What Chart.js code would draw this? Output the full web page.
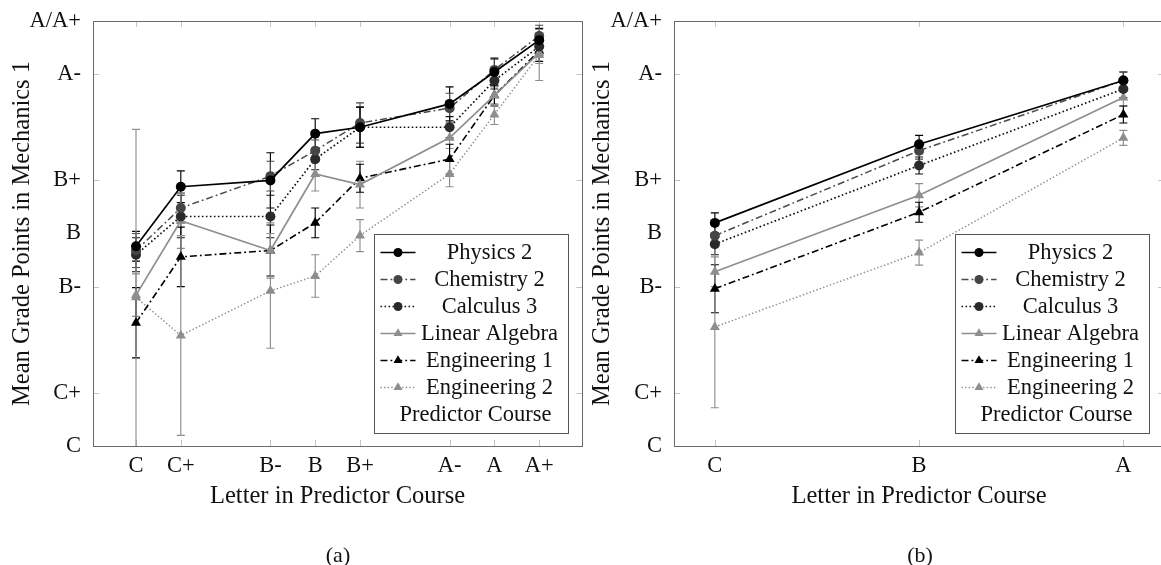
<!DOCTYPE html>
<html><head><meta charset="utf-8">
<script src="https://cdn.jsdelivr.net/npm/chart.js@4.4.1/dist/chart.umd.min.js"></script>
<style>
html,body{margin:0;padding:0;background:#fff;overflow:hidden;}
#wrap{position:relative;width:1161px;height:565px;overflow:hidden;background:#fff;}
canvas{position:absolute;top:0;}
.cap{position:absolute;font-family:'Liberation Serif',serif;font-size:22px;color:#111;transform:translateX(-50%);line-height:26px;}
</style></head><body>
<div id="wrap">
<canvas id="ca" width="588" height="565" style="left:0px"></canvas>
<canvas id="cb" width="585" height="565" style="left:585px"></canvas>
<div class="cap" style="left:338px;top:542px">(a)</div>
<div class="cap" style="left:920px;top:542px">(b)</div>
</div>
<script>
// ---- data ----
const seriesNames = ['Physics 2','Chemistry 2','Calculus 3','Linear Algebra','Engineering 1','Engineering 2'];
const yTickValues = [2.0, 2.25, 2.75, 3.0, 3.25, 3.75, 4.0];
const yTickLabels = ['C','C+','B-','B','B+','A-','A/A+'];
const yTickMarks = [2.25, 2.75, 3.25, 3.75];

const catsA = ['C','C+','B-','B','B+','A-','A','A+'];
const xValsA = [2.0, 2.25, 2.75, 3.0, 3.25, 3.75, 4.0, 4.25];
const catsB = ['C','B','A'];
const xValsB = [2.0, 3.0, 4.0];

const physicsA   = [2.94, 3.22, 3.25, 3.47, 3.50, 3.61, 3.76, 3.91];
const chemistryA = [2.92, 3.12, 3.27, 3.39, 3.52, 3.59, 3.77, 3.93];
const calculusA  = [2.90, 3.08, 3.08, 3.35, 3.50, 3.50, 3.72, 3.88];
const linAlgA    = [2.71, 3.06, 2.92, 3.28, 3.23, 3.45, 3.65, 3.85];
const eng1A      = [2.58, 2.89, 2.92, 3.05, 3.26, 3.35, 3.65, 3.86];
const eng2A      = [2.70, 2.52, 2.73, 2.80, 2.99, 3.28, 3.56, 3.84];

const physicsErrA   = [0.07, 0.075, 0.13, 0.07, 0.095, 0.08, 0.065, 0.055];
const chemistryErrA = [0.08, 0.07, 0.07, 0.05, 0.095, 0.07, 0.05, 0.05];
const calculusErrA  = [0.08, 0.10, 0.10, 0.05, 0.095, 0.05, 0.04, 0.05];
const linAlgErrA    = [0.10, 0.13, 0.13, 0.08, 0.11, 0.05, 0.04, 0.05];
const eng1ErrA      = [0.165, 0.14, 0.12, 0.07, 0.066, 0.07, 0.05, 0.05];
const eng2ErrA      = [0.79, 0.47, 0.27, 0.10, 0.075, 0.06, 0.047, 0.12];

const physicsB   = [3.05, 3.42, 3.72];
const chemistryB = [2.99, 3.39, 3.72];
const calculusB  = [2.95, 3.32, 3.68];
const linAlgB    = [2.82, 3.18, 3.64];
const eng1B      = [2.74, 3.10, 3.56];
const eng2B      = [2.56, 2.91, 3.45];

const physicsErrB   = [0.047, 0.042, 0.04];
const chemistryErrB = [0.05, 0.04, 0.04];
const calculusErrB  = [0.05, 0.04, 0.04];
const linAlgErrB    = [0.07, 0.055, 0.04];
const eng1ErrB      = [0.113, 0.047, 0.04];
const eng2ErrB      = [0.38, 0.059, 0.035];

// ---- styles ----
const styles = [
  {color:'#000000', fill:'#000000', dash:[], width:1.7, shape:'circle', r:5},
  {color:'#4a4a4a', fill:'#454545', dash:[7,3,1.8,3], width:1.5, shape:'circle', r:5},
  {color:'#111111', fill:'#2a2a2a', dash:[1.6,2.4], width:1.7, shape:'circle', r:5},
  {color:'#8e8e8e', fill:'#8e8e8e', dash:[], width:1.7, shape:'triangle', r:5.8},
  {color:'#000000', fill:'#000000', dash:[7,3,1.8,3], width:1.6, shape:'triangle', r:5.8},
  {color:'#8e8e8e', fill:'#8e8e8e', dash:[1.4,2.2], width:1.5, shape:'triangle', r:5.8}
];

Chart.defaults.font.family = "'Liberation Serif', 'Times New Roman', serif";
Chart.defaults.color = '#111';

function makeDatasets(xs, values, errs) {
  return values.map((vals, i) => {
    const s = styles[i];
    return {
      label: seriesNames[i],
      data: xs.map((xv, j) => ({x: xv, y: vals[j]})),
      errors: errs[i],
      borderColor: s.color,
      backgroundColor: s.fill,
      borderDash: s.dash,
      borderWidth: s.width,
      pointStyle: s.shape,
      pointRadius: s.r,
      pointBackgroundColor: s.fill,
      pointBorderColor: s.fill,
      pointBorderWidth: 0,
      tension: 0,
      fill: false
    };
  });
}

function drawMarker(ctx, shape, x, y, r, fill) {
  ctx.beginPath();
  if (shape === 'circle') {
    ctx.arc(x, y, r, 0, Math.PI * 2);
  } else {
    let rad = 0;
    ctx.moveTo(x + Math.sin(rad) * r, y - Math.cos(rad) * r);
    rad += 2 * Math.PI / 3;
    ctx.lineTo(x + Math.sin(rad) * r, y - Math.cos(rad) * r);
    rad += 2 * Math.PI / 3;
    ctx.lineTo(x + Math.sin(rad) * r, y - Math.cos(rad) * r);
    ctx.closePath();
  }
  ctx.fillStyle = fill;
  ctx.fill();
}

const decor = {
  id: 'decor',
  beforeDatasetsDraw(chart, args, opts) {
    const {ctx, chartArea: a, scales: {x, y}} = chart;
    const xt = opts.xTicks || [];
    ctx.save();
    ctx.beginPath(); ctx.rect(a.left, a.top, a.right - a.left, a.bottom - a.top); ctx.clip();
    ctx.strokeStyle = '#c4c4c4'; ctx.lineWidth = 1; ctx.setLineDash([]);
    xt.forEach(v => {
      const px = Math.round(x.getPixelForValue(v)) + 0.5;
      ctx.beginPath(); ctx.moveTo(px, a.top); ctx.lineTo(px, a.top + 6);
      ctx.moveTo(px, a.bottom); ctx.lineTo(px, a.bottom - 6); ctx.stroke();
    });
    yTickMarks.forEach(v => {
      const py = Math.round(y.getPixelForValue(v)) + 0.5;
      ctx.beginPath(); ctx.moveTo(a.left, py); ctx.lineTo(a.left + 6, py);
      ctx.moveTo(a.right, py); ctx.lineTo(a.right - 6, py); ctx.stroke();
    });
    // error bars
    chart.data.datasets.forEach((ds, i) => {
      ctx.strokeStyle = ds.borderColor; ctx.lineWidth = 1.15;
      ds.data.forEach((p, j) => {
        const e = ds.errors[j];
        const px = x.getPixelForValue(p.x);
        const t = y.getPixelForValue(p.y + e), b = y.getPixelForValue(p.y - e);
        ctx.beginPath();
        ctx.moveTo(px, t); ctx.lineTo(px, b);
        ctx.moveTo(px - 4, t); ctx.lineTo(px + 4, t);
        ctx.moveTo(px - 4, b); ctx.lineTo(px + 4, b);
        ctx.stroke();
      });
    });
    ctx.restore();
  },
  afterDraw(chart) {
    const {ctx, chartArea: a} = chart;
    ctx.save();
    ctx.setLineDash([]);
    ctx.strokeStyle = '#6a6a6a'; ctx.lineWidth = 1;
    ctx.strokeRect(Math.round(a.left) + 0.5, Math.round(a.top) + 0.5, Math.round(a.right - a.left), Math.round(a.bottom - a.top));
    // legend (south east, 3% inset like pgfplots)
    const w = 194, h = 199;
    const lx = Math.round(a.right - 0.03 * (a.right - a.left) - w) + 0.5;
    const ly = Math.round(a.bottom - 0.03 * (a.bottom - a.top) - h) + 0.5;
    ctx.fillStyle = '#fff'; ctx.fillRect(lx, ly, w, h);
    ctx.strokeStyle = '#555'; ctx.strokeRect(lx, ly, w, h);
    ctx.font = "22.5px 'Liberation Serif', serif";
    ctx.textBaseline = 'middle'; ctx.textAlign = 'center';
    chart.data.datasets.forEach((ds, i) => {
      const s = styles[i];
      const yy = ly + 18 + i * 27;
      ctx.beginPath(); ctx.setLineDash(s.dash); ctx.strokeStyle = s.color; ctx.lineWidth = s.width;
      ctx.moveTo(lx + 6, yy); ctx.lineTo(lx + 41, yy); ctx.stroke();
      ctx.setLineDash([]);
      drawMarker(ctx, s.shape, lx + 23.5, yy, s.r * 0.9, s.fill);
      ctx.fillStyle = '#111';
      ctx.fillText(ds.label, lx + 115, yy + 1);
    });
    ctx.fillStyle = '#111';
    ctx.fillText('Predictor Course', lx + 101, ly + 180 + 1);
    ctx.restore();
  }
};

function makeChart(id, xs, cats, xmin, xmax, values, errs, yWidth, padRight, titlePad) {
  return new Chart(document.getElementById(id), {
    type: 'line',
    data: {datasets: makeDatasets(xs, values, errs)},
    plugins: [decor],
    options: {
      responsive: false, animation: false, events: [],
      devicePixelRatio: 1,
      layout: {padding: {left: 0, top: 21, right: padRight, bottom: 0}},
      plugins: {legend: {display: false}, tooltip: {enabled: false}, decor: {xTicks: xs}},
      scales: {
        x: {
          type: 'linear', min: xmin, max: xmax,
          afterBuildTicks: s => { s.ticks = xs.map(v => ({value: v})); },
          afterFit: s => { s.height = 119; s.paddingLeft = 0; s.paddingRight = 0; },
          grid: {display: false, drawTicks: false},
          border: {display: false},
          ticks: {autoSkip: false, maxRotation: 0, padding: 7, font: {size: 22.5}, color: '#111',
                  callback: v => { const k = xs.indexOf(v); return k >= 0 ? cats[k] : ''; }},
          title: {display: true, text: 'Letter in Predictor Course', font: {size: 24.5}, color: '#111',
                  padding: {top: 0, bottom: 54}}
        },
        y: {
          type: 'linear', min: 2, max: 4,
          afterBuildTicks: s => { s.ticks = yTickValues.map(v => ({value: v})); },
          afterFit: s => { s.width = yWidth; s.paddingTop = 0; s.paddingBottom = 0; },
          grid: {display: false, drawTicks: false},
          border: {display: false},
          ticks: {autoSkip: false, padding: 12, font: {size: 22.5}, color: '#111',
                  callback: v => { const k = yTickValues.indexOf(v); return k >= 0 ? yTickLabels[k] : ''; }},
          title: {display: true, text: 'Mean Grade Points in Mechanics 1', font: {size: 24.5}, color: '#111',
                  padding: {top: titlePad, bottom: 0}}
        }
      }
    }
  });
}

makeChart('ca', xValsA, catsA, 1.76, 4.49,
  [physicsA, chemistryA, calculusA, linAlgA, eng1A, eng2A],
  [physicsErrA, chemistryErrA, calculusErrA, linAlgErrA, eng1ErrA, eng2ErrA], 93, 2, 8);
makeChart('cb', xValsB, catsB, 1.8, 4.2,
  [physicsB, chemistryB, calculusB, linAlgB, eng1B, eng2B],
  [physicsErrB, chemistryErrB, calculusErrB, linAlgErrB, eng1ErrB, eng2ErrB], 89, 3, 3.3);
</script>
</body></html>
